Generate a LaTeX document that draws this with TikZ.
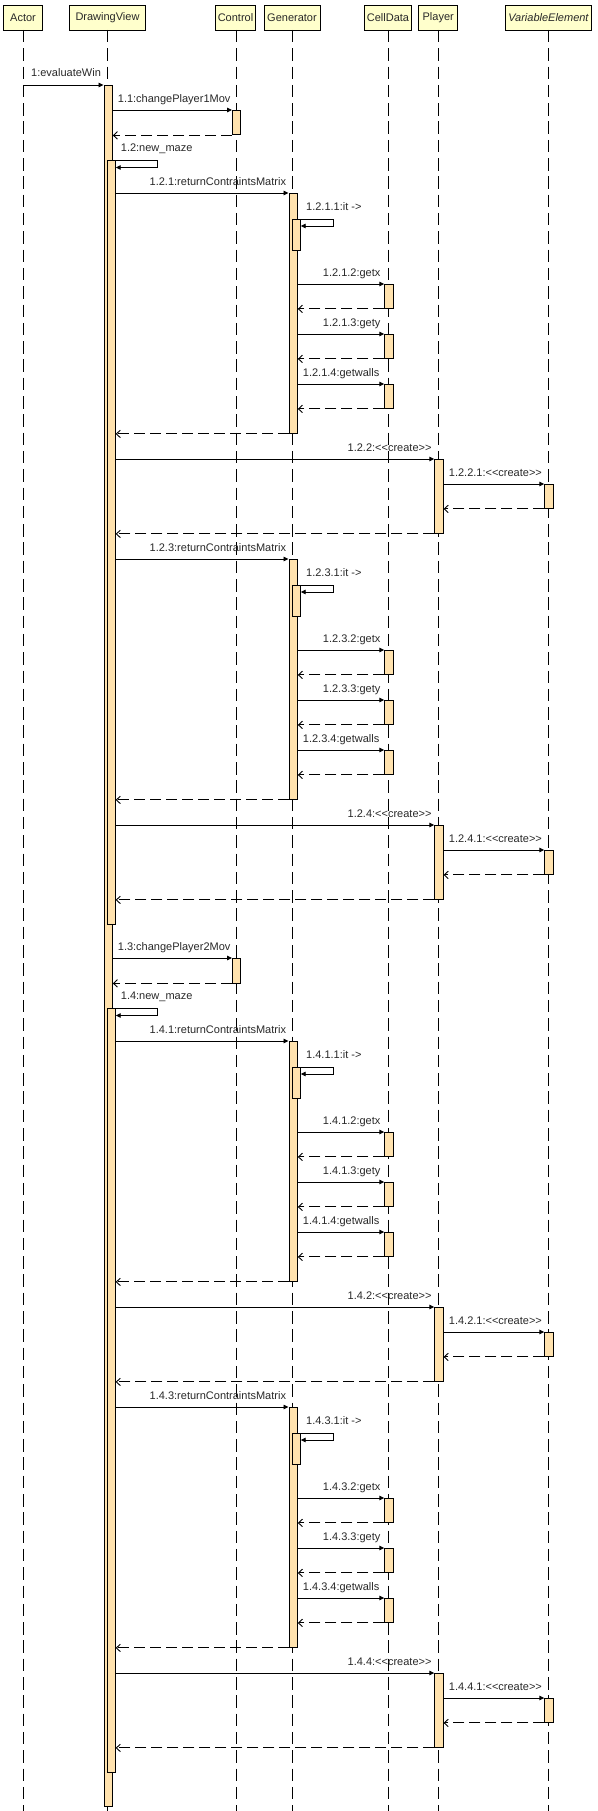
\documentclass[tikz,border=0pt]{standalone}
\usepackage{fontspec}
\setmainfont{Liberation Sans}
\usetikzlibrary{arrows.meta}
\definecolor{headfill}{RGB}{255,255,204}
\definecolor{barfill}{RGB}{255,226,174}
\definecolor{txt}{RGB}{40,40,40}
\tikzset{
 head/.style={draw=black, fill=headfill, line width=0.9pt, minimum height=25pt, inner sep=0pt, font=\fontsize{11}{13}\selectfont, text=txt},
 barbox/.style={draw=black, fill=barfill, line width=0.9pt, inner sep=0pt, anchor=north west},
 life/.style={draw=black, line width=0.9pt, dash pattern=on 12.5pt off 5.8pt},
 call/.style={draw=black, line width=0.9pt, -{Triangle[length=5pt,width=4.5pt]}},
 ret/.style={draw=black, line width=0.9pt, dash pattern=on 11pt off 5pt, -{Straight Barb[length=4pt,width=7.5pt]}},
 lbl/.style={anchor=base west, inner sep=0pt, font=\fontsize{11}{13}\selectfont, text=txt},
}
\newcommand{\actbar}[4]{\node[barbox, minimum width=8.4pt, minimum height=#4pt] (#1) at (#2-4,#3) {};}
\newcommand{\nestbar}[4]{\node[barbox, minimum width=7.8pt, minimum height=#4pt] (#1) at (#2-0.5,#3) {};}
% #1 suffix, #2 base y, #3 label number, #4 source bar
\newcommand{\genblock}[4]{%
 \actbar{g#1}{292.5}{#2}{240}
 \nestbar{gn#1}{292.5}{#2+26}{31}
 \actbar{ca#1}{388.3}{#2+91}{24}
 \actbar{cb#1}{388.3}{#2+141}{24}
 \actbar{cc#1}{388.3}{#2+191}{24}
 \draw[call] (#4.east |- g#1.north west) -- (g#1.north west);
 \node[lbl] at (149.5,#2-7.5) {#3:returnContraintsMatrix};
 \draw[call] (gn#1.north east) -- ++(32.5,0) -- ++(0,7) -- ++(-32.5,0);
 \node[lbl] at (306,#2+26-8.5) {#3.1:it ->};
 \draw[call] (g#1.east |- ca#1.north west) -- (ca#1.north west);
 \node[lbl] at (322.7,#2+91-7.5) {#3.2:getx};
 \draw[ret] (ca#1.south west) -- (g#1.east |- ca#1.south west);
 \draw[call] (g#1.east |- cb#1.north west) -- (cb#1.north west);
 \node[lbl] at (322.7,#2+141-7.5) {#3.3:gety};
 \draw[ret] (cb#1.south west) -- (g#1.east |- cb#1.south west);
 \draw[call] (g#1.east |- cc#1.north west) -- (cc#1.north west);
 \node[lbl] at (302.7,#2+191-7.5) {#3.4:getwalls};
 \draw[ret] (cc#1.south west) -- (g#1.east |- cc#1.south west);
 \draw[ret] (g#1.south west) -- (#4.east |- g#1.south west);
}
\newcommand{\plblock}[4]{%
 \actbar{p#1}{438.3}{#2}{74}
 \actbar{v#1}{548.3}{#2+25}{24}
 \draw[call] (#4.east |- p#1.north west) -- (p#1.north west);
 \node[lbl] at (347.5,#2-7.5) {#3:<{}<create>{}>};
 \draw[call] (p#1.east |- v#1.north west) -- (v#1.north west);
 \node[lbl] at (448.7,#2+25-7.5) {#3.1:<{}<create>{}>};
 \draw[ret] (v#1.south west) -- (p#1.east |- v#1.south west);
 \draw[ret] (p#1.south west) -- (#4.east |- p#1.south west);
}
\begin{document}
\begin{tikzpicture}[x=1pt,y=-1pt]
\useasboundingbox (0,0) rectangle (597,1811);
% headers
\node[head, minimum width=38.4pt] (actor) at (23,17.5) {Actor};
\node[head, minimum width=76.7pt] (dv) at (107.5,17.5) {DrawingView};
\node[head, minimum width=40.7pt] (ctl) at (235.5,17.5) {Control};
\node[head, minimum width=56pt] (gen) at (292,17.5) {Generator};
\node[head, minimum width=46.7pt] (cell) at (388,17.5) {CellData};
\node[head, minimum width=39.4pt] (pl) at (438.2,17.5) {Player};
\node[head, minimum width=86.4pt] (ve) at (548.4,17.5) {\itshape VariableElement};
% lifelines
\foreach \n/\x in {actor/23,dv/107.5,ctl/236,gen/292.5,cell/388.3,pl/438.3,ve/548.3}
  \draw[life] (\x,30) -- (\x,1811);
% main activation
\actbar{dvm}{107.5}{85}{1721}
\draw[call] (actor.south |- dvm.north west) -- (dvm.north west);
\node[lbl] at (31,85-8) {1:evaluateWin};
% 1.1
\actbar{c1}{236}{110}{24.5}
\draw[call] (dvm.east |- c1.north west) -- (c1.north west);
\node[lbl] at (117.7,110-7.5) {1.1:changePlayer1Mov};
\draw[ret] (c1.south west) -- (dvm.east |- c1.south west);
% 1.2
\nestbar{dvn1}{107.5}{160}{764}
\draw[call] (dvn1.north east) -- ++(41.7,0) -- ++(0,7.5) -- ++(-41.7,0);
\node[lbl] at (120.7,160-8.5) {1.2:new\_maze};
\genblock{a}{193}{1.2.1}{dvn1}
\plblock{a}{459}{1.2.2}{dvn1}
\genblock{b}{559}{1.2.3}{dvn1}
\plblock{b}{825}{1.2.4}{dvn1}
% 1.3
\actbar{c2}{236}{958}{24.5}
\draw[call] (dvm.east |- c2.north west) -- (c2.north west);
\node[lbl] at (117.7,958-7.5) {1.3:changePlayer2Mov};
\draw[ret] (c2.south west) -- (dvm.east |- c2.south west);
% 1.4
\nestbar{dvn2}{107.5}{1008}{764}
\draw[call] (dvn2.north east) -- ++(41.7,0) -- ++(0,7.5) -- ++(-41.7,0);
\node[lbl] at (120.7,1008-8.5) {1.4:new\_maze};
\genblock{c}{1041}{1.4.1}{dvn2}
\plblock{c}{1307}{1.4.2}{dvn2}
\genblock{d}{1407}{1.4.3}{dvn2}
\plblock{d}{1673}{1.4.4}{dvn2}
\end{tikzpicture}
\end{document}
